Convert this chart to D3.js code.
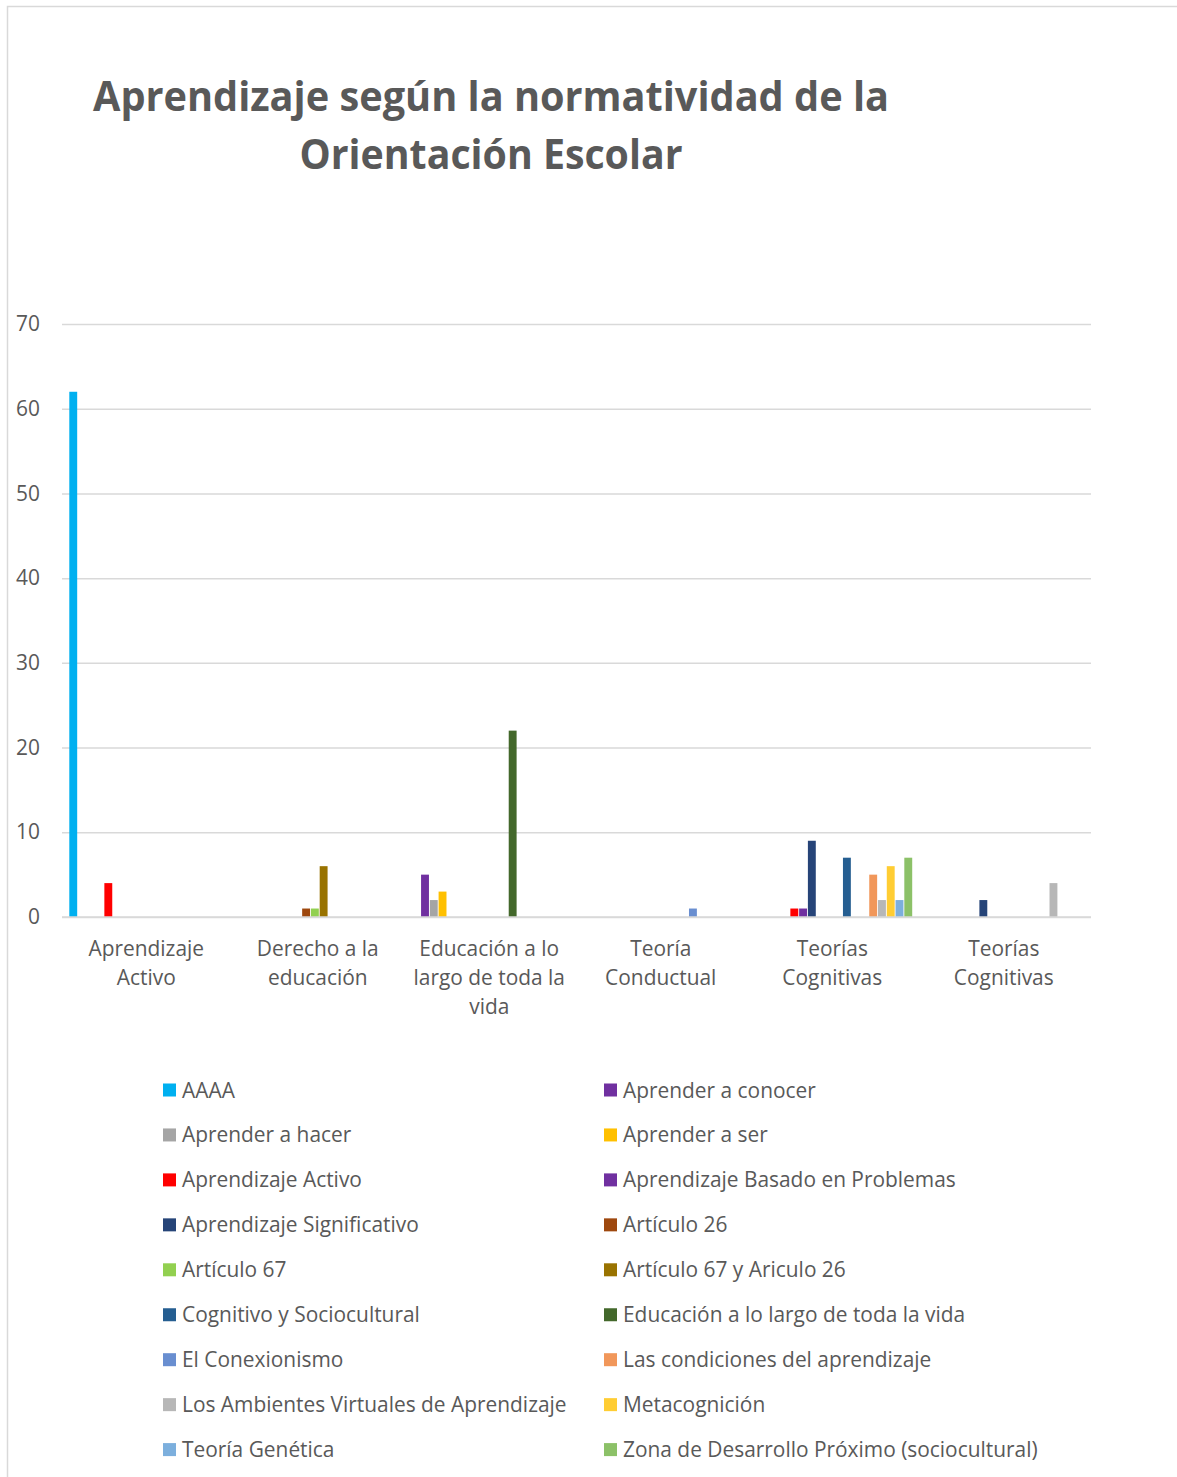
<!DOCTYPE html>
<html>
<head>
<meta charset="utf-8">
<script src="https://cdn.jsdelivr.net/npm/d3@7"></script>
<style>
  html, body { margin: 0; padding: 0; background: #fff; }
  svg { display: block; }
  text { font-family: "Open Sans", "Noto Sans", sans-serif; fill: #595959; }
</style>
</head>
<body>
<svg id="chart" width="1177" height="1477"></svg>
<script>
const titleLines = ["Aprendizaje según la normatividad de la", "Orientación Escolar"];

const categories = [
  "Aprendizaje Activo", "Derecho a la educación", "Educación a lo largo de toda la vida",
  "Teoría Conductual", "Teorías Cognitivas (1)", "Teorías Cognitivas (2)"
];
const categoryLabelLines = [
  ["Aprendizaje", "Activo"],
  ["Derecho a la", "educación"],
  ["Educación a lo", "largo de toda la", "vida"],
  ["Teoría", "Conductual"],
  ["Teorías", "Cognitivas"],
  ["Teorías", "Cognitivas"]
];

const seriesNames = [
  "AAAA", "Aprender a conocer", "Aprender a hacer", "Aprender a ser",
  "Aprendizaje Activo", "Aprendizaje Basado en Problemas", "Aprendizaje Significativo",
  "Artículo 26", "Artículo 67", "Artículo 67 y Ariculo 26", "Cognitivo y Sociocultural",
  "Educación a lo largo de toda la vida", "El Conexionismo", "Las condiciones del aprendizaje",
  "Los Ambientes Virtuales de Aprendizaje", "Metacognición", "Teoría Genética",
  "Zona de Desarrollo Próximo (sociocultural)"
];

const seriesColors = [
  "#00b0f0", "#7030a0", "#a5a5a5", "#ffc000",
  "#ff0000", "#7030a0", "#264478",
  "#9e480e", "#92d050", "#997300", "#255e91",
  "#43682b", "#698ed0", "#f1975a",
  "#b7b7b7", "#ffcd33", "#7cafdd",
  "#8cc168"
];

// values per series, in category order
const seriesValues = [
  [62, 0, 0, 0, 0, 0],
  [0, 0, 5, 0, 0, 0],
  [0, 0, 2, 0, 0, 0],
  [0, 0, 3, 0, 0, 0],
  [4, 0, 0, 0, 1, 0],
  [0, 0, 0, 0, 1, 0],
  [0, 0, 0, 0, 9, 2],
  [0, 1, 0, 0, 0, 0],
  [0, 1, 0, 0, 0, 0],
  [0, 6, 0, 0, 0, 0],
  [0, 0, 0, 0, 7, 0],
  [0, 0, 22, 0, 0, 0],
  [0, 0, 0, 1, 0, 0],
  [0, 0, 0, 0, 5, 0],
  [0, 0, 0, 0, 2, 4],
  [0, 0, 0, 0, 6, 0],
  [0, 0, 0, 0, 2, 0],
  [0, 0, 0, 0, 7, 0]
];

const yTicks = [0, 10, 20, 30, 40, 50, 60, 70];

const svg = d3.select("#chart");
const FS = 20.9;

// chart border
svg.append("rect")
  .attr("x", 7.5).attr("y", 6.5)
  .attr("width", 1177).attr("height", 1477)
  .attr("fill", "none").attr("stroke", "#d9d9d9").attr("stroke-width", 1.5);

// title
svg.append("text")
  .attr("x", 491).attr("y", 111)
  .attr("text-anchor", "middle")
  .attr("font-size", 42).attr("font-weight", "bold")
  .attr("textLength", 796).attr("lengthAdjust", "spacingAndGlyphs")
  .text(titleLines[0]);
svg.append("text")
  .attr("x", 491).attr("y", 169)
  .attr("text-anchor", "middle")
  .attr("font-size", 42).attr("font-weight", "bold")
  .attr("textLength", 383).attr("lengthAdjust", "spacingAndGlyphs")
  .text(titleLines[1]);

const plotLeft = 62, plotRight = 1091;
const y = d3.scaleLinear().domain([0, 70]).range([917, 324]);

const x0 = d3.scaleBand().domain(categories).range([plotLeft, plotRight])
  .paddingInner(0.08).paddingOuter(0.04);
const x1 = d3.scaleBand().domain(seriesNames).range([0, x0.bandwidth()])
  .paddingInner(0.1).paddingOuter(0.05);

// gridlines
const yAxis = d3.axisLeft(y).tickValues(yTicks).tickSize(-(plotRight - plotLeft)).tickPadding(22);
const gy = svg.append("g").attr("transform", `translate(${plotLeft},0)`).call(yAxis);
gy.select(".domain").remove();
gy.selectAll(".tick line").attr("stroke", "#d9d9d9").attr("stroke-width", 1.5);
gy.selectAll(".tick text")
  .attr("font-size", FS).attr("fill", "#595959")
  .style("font-family", '"Open Sans", sans-serif');

// bars
const flat = [];
seriesNames.forEach((s, si) => {
  categories.forEach((c, ci) => {
    const v = seriesValues[si][ci];
    if (v > 0) flat.push({ s, si, c, v });
  });
});
svg.append("g").selectAll("rect").data(flat).join("rect")
  .attr("x", d => x0(d.c) + x1(d.s))
  .attr("y", d => y(d.v))
  .attr("width", x1.bandwidth())
  .attr("height", d => y(0) - y(d.v))
  .attr("fill", d => seriesColors[d.si]);

// baseline
svg.append("line")
  .attr("x1", plotLeft).attr("x2", plotRight)
  .attr("y1", y(0)).attr("y2", y(0))
  .attr("stroke", "#d9d9d9").attr("stroke-width", 1.5);

// category labels
const xAxis = d3.axisBottom(x0).tickSize(0).tickFormat("");
const gx = svg.append("g").attr("transform", `translate(-1.5,${y(0)})`).call(xAxis);
gx.select(".domain").remove();
gx.selectAll(".tick").each(function(d, i) {
  const t = d3.select(this).append("text")
    .attr("text-anchor", "middle")
    .attr("font-size", FS).attr("fill", "#595959")
    .style("font-family", '"Open Sans", sans-serif');
  categoryLabelLines[i].forEach((ln, k) => {
    t.append("tspan").attr("x", 0).attr("y", 39 + k * 29).text(ln);
  });
});

// legend
const legendColX = [163, 604];
const legendRowY0 = 1090, legendRowStep = 44.95;
const lg = svg.append("g").selectAll("g").data(seriesNames).join("g")
  .attr("transform", (d, i) => `translate(${legendColX[i % 2]},${legendRowY0 + Math.floor(i / 2) * legendRowStep})`);
lg.append("rect")
  .attr("x", 0).attr("y", -6.5).attr("width", 13).attr("height", 13)
  .attr("fill", (d, i) => seriesColors[i]);
lg.append("text")
  .attr("x", 19).attr("y", 7.5)
  .attr("font-size", FS).attr("fill", "#595959")
  .text(d => d);
</script>
</body>
</html>
